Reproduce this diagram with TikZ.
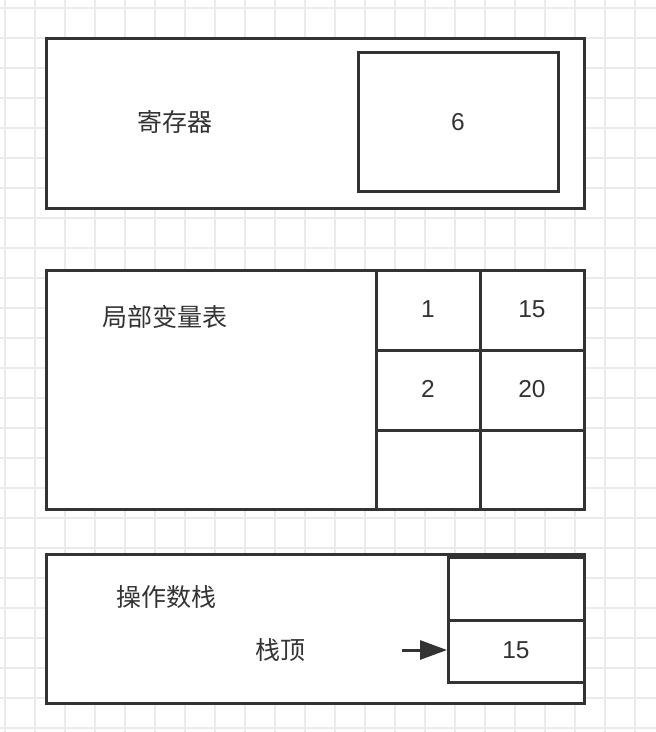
\documentclass[tikz,border=0pt]{standalone}
\usepackage{fontspec}
\setmainfont{Liberation Sans}
\newfontfamily\cjk{Noto Sans CJK SC}
\usetikzlibrary{arrows.meta}
\definecolor{gridc}{HTML}{EBEBEB}
\definecolor{ink}{HTML}{333333}
\tikzset{
  box/.style={draw=ink, line width=3pt, fill=none},
  lbl/.style={text=ink, font=\cjk\fontsize{25}{29}\selectfont, inner sep=0pt},
  num/.style={text=ink, font=\fontsize{24.5}{28}\selectfont, inner sep=0pt},
}
\begin{document}
\begin{tikzpicture}[x=1pt,y=-1pt]
\useasboundingbox (0,0) rectangle (656,732);
\fill[white] (0,0) rectangle (656,732);
% grid
\foreach \gx in {5,35,...,655} \draw[gridc, line width=1.5pt] (\gx,0) -- (\gx,732);
\foreach \gy in {8,38,...,731} \draw[gridc, line width=1.5pt] (0,\gy) -- (656,\gy);
% register
\fill[white] (46,38) rectangle (584,208);
\draw[box] (46,38) rectangle (584,208);
\draw[box] (358,52) rectangle (558,191);
\node[lbl] (reg) at (175,122) {寄存器};
\node[num] (regv) at (458,122) {6};
% local variable table
\fill[white] (46,270) rectangle (584,509);
\draw[box] (46,270) rectangle (584,509);
\draw[box] (376,270) -- (376,509);
\draw[box] (480,270) -- (480,509);
\draw[box] (376,350) -- (584,350);
\draw[box] (376,430) -- (584,430);
\node[lbl] (lvt) at (165,317) {局部变量表};
\node[num] (c11) at (428,309) {1};
\node[num] (c12) at (532,309) {15};
\node[num] (c21) at (428,389) {2};
\node[num] (c22) at (532,389) {20};
% operand stack
\fill[white] (46,554) rectangle (584,703);
\draw[box] (46,554) rectangle (584,703);
\draw[box] (448,557) rectangle (584,682);
\draw[box] (448,620) -- (584,620);
\node[lbl] (ops) at (166,597) {操作数栈};
\node[lbl] (top) at (280,650) {栈顶};
\node[num] (sv) at (516,650) {15};
\coordinate (as) at (402,650);
\coordinate (ae) at (447,650);
\draw[ink, line width=3pt, -{Triangle[length=27pt,width=19pt]}] (as) -- (ae);
\end{tikzpicture}
\end{document}
